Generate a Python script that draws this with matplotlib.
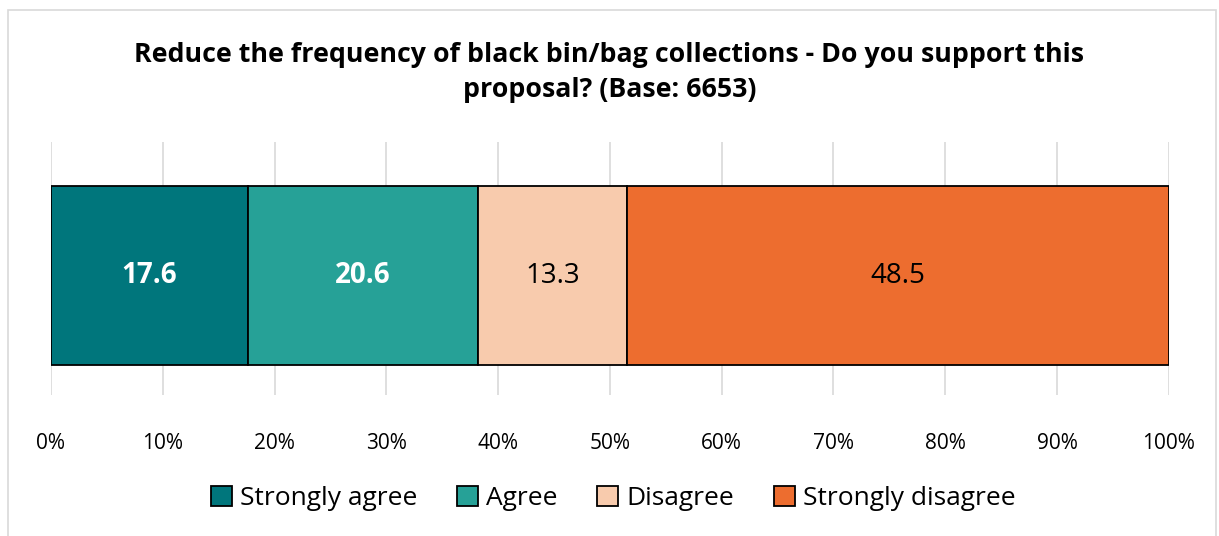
import matplotlib.pyplot as plt
from matplotlib.patches import Rectangle

# Response shares (%)
categories = ['Strongly agree', 'Agree', 'Disagree', 'Strongly disagree']
values = [17.6, 20.6, 13.3, 48.5]
colors = ['#00767C', '#26A197', '#F8CBAD', '#ED6D2F']
label_colors = ['white', 'white', 'black', 'black']
label_weights = ['bold', 'bold', 'normal', 'normal']
ticks = list(range(0, 101, 10))
tick_labels = [f'{t}%' for t in ticks]

plt.rcParams['font.family'] = ['Open Sans', 'DejaVu Sans']

fig = plt.figure(figsize=(12.19, 5.36), dpi=100)
ax = fig.add_axes([0.0418, 0.263, 0.917, 0.472])

# chart border
fig.patches.append(Rectangle((8 / 1219, -0.02), 1208 / 1219, 1 - 10 / 536 + 0.02,
                             transform=fig.transFigure, fill=False,
                             edgecolor='#D9D9D9', linewidth=1.2))

left = 0
for cat, val, col, lc, lw in zip(categories, values, colors, label_colors, label_weights):
    ax.barh(0, val, left=left, height=0.707, color=col, edgecolor='black',
            linewidth=1.3, label=cat, zorder=3)
    ax.text(left + val / 2, 0, f'{val:.1f}', ha='center', va='center',
            color=lc, fontsize=20, fontweight=lw, zorder=4)
    left += val

ax.set_xlim(0, 100)
ax.set_ylim(-0.472, 0.528)
ax.set_xticks(ticks)
ax.set_xticklabels(tick_labels, fontsize=15)
ax.set_yticks([])
ax.grid(axis='x', color='#D9D9D9', linewidth=1.2, zorder=0)
ax.tick_params(axis='x', length=0, pad=27)
for s in ax.spines.values():
    s.set_visible(False)

fig.text(0.5, 0.865, 'Reduce the frequency of black bin/bag collections - Do you support this\nproposal? (Base: 6653)',
         ha='center', va='center', fontsize=19.3, fontweight='bold', linespacing=1.45)

fig.legend(loc='center', bbox_to_anchor=(0.503, 0.07), ncol=4, frameon=False,
           fontsize=19, handlelength=0.8, handleheight=0.8, handletextpad=0.3,
           columnspacing=1.5)

plt.savefig('out.png', dpi=100)
